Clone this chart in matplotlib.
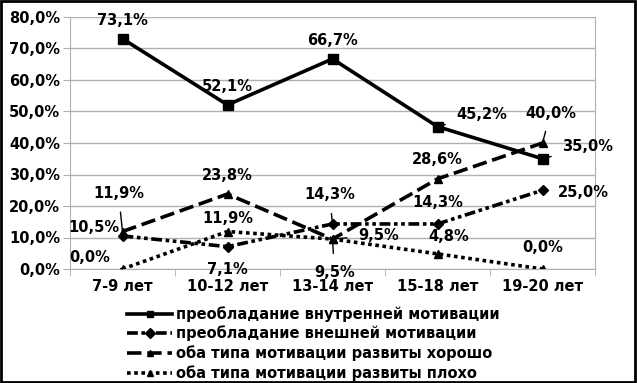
import matplotlib
matplotlib.use("Agg")
import matplotlib.pyplot as plt
from matplotlib.patches import Rectangle

plt.rcParams['font.family'] = ['DejaVu Sans']
plt.rcParams['font.weight'] = 'bold'

# ---------------- data ----------------
ages = ['7-9 лет', '10-12 лет', '13-14 лет', '15-18 лет', '19-20 лет']
intrinsic = [73.1, 52.1, 66.7, 45.2, 35.0]
extrinsic = [10.5, 7.1, 14.3, 14.3, 25.0]
both_good = [11.9, 23.8, 9.5, 28.6, 40.0]
both_poor = [0.0, 11.9, 9.5, 4.8, 0.0]
names = ['преобладание внутренней мотивации',
         'преобладание внешней мотивации',
         'оба типа мотивации развиты хорошо',
         'оба типа мотивации развиты плохо']

# label placement per point: (series, index, dx, dy, leader)  offsets in px
label_pos = [
    (0, 0, 0, 18, False), (0, 1, 0, 18, False), (0, 2, 0, 18, False),
    (0, 3, 44, 12, True), (0, 4, 45, 12, True),
    (1, 0, -29, 8, False), (1, 1, 0, -23, True), (1, 2, -3, 29, True),
    (1, 3, 0, 21, False), (1, 4, 41, -2, True),
    (2, 0, -4, 38, True), (2, 1, 0, 19, False), (2, 2, 46, 4, True),
    (2, 3, 0, 19, False), (2, 4, 8, 30, True),
    (3, 0, -33, 11, True), (3, 1, 0, 13, False), (3, 2, 2, -33, True),
    (3, 3, 11, 17, False), (3, 4, 0, 21, False),
]

series = [intrinsic, extrinsic, both_good, both_poor]
styles = [
    dict(ls='-', marker='s', ms=7),
    dict(ls=(0, (3, 1, 1, 1, 1, 1)), marker='D', ms=5),
    dict(ls=(0, (4, 1.6)), marker='^', ms=6),
    dict(ls=(0, (1, 1)), marker='^', ms=6),
]

FS = 10.5

fig = plt.figure(figsize=(6.37, 3.83), dpi=100)
ax = fig.add_axes([70/637, 1 - 269/383, 525/637, 252/383])

x = list(range(len(ages)))
lines = []
for vals, st, nm in zip(series, styles, names):
    ln, = ax.plot(x, vals, color='black', lw=2.6, ls=st['ls'],
                  marker=st['marker'], ms=st['ms'], mfc='black', mec='black',
                  label=nm)
    lines.append(ln)

ax.set_xlim(-0.5, 4.5)
ax.set_ylim(0, 80)
ax.set_yticks(range(0, 81, 10))
ax.set_yticklabels([f'{v:.1f}%'.replace('.', ',') for v in range(0, 81, 10)],
                   fontsize=FS, fontweight='bold')
ax.set_xticks(x)
ax.set_xticklabels(ages, fontsize=FS, fontweight='bold')
ax.set_xticks([i + 0.5 for i in range(-1, 5)], minor=True)
ax.tick_params(axis='x', which='major', length=0, pad=7)
ax.tick_params(axis='x', which='minor', length=5, color='#b0b0b0', direction='out')
ax.tick_params(axis='y', length=5, color='#b0b0b0', pad=2)
ax.grid(axis='y', color='#b0b0b0', lw=1)
for s in ax.spines.values():
    s.set_color('#b0b0b0')
ax.spines['top'].set_visible(False)
ax.set_axisbelow(True)

for si, i, dx, dy, leader in label_pos:
    v = series[si][i]
    txt = f'{v:.1f}%'.replace('.', ',')
    if leader:
        ax.annotate(txt, (i, v), xytext=(dx, dy), textcoords='offset pixels',
                    ha='center', va='center', fontsize=FS, fontweight='bold',
                    arrowprops=dict(arrowstyle='-', color='black', lw=1,
                                    shrinkA=6, shrinkB=0))
    else:
        ax.annotate(txt, (i, v), xytext=(dx, dy), textcoords='offset pixels',
                    ha='center', va='center', fontsize=FS, fontweight='bold')

leg = fig.legend(handles=lines, loc='upper left', bbox_to_anchor=(127/637, 1 - 306/383),
                 frameon=False, fontsize=10.5, handlelength=3.1, handletextpad=0.27,
                 labelspacing=0.27, borderpad=0, borderaxespad=0)
for t in leg.get_texts():
    t.set_fontweight('bold')
for h in leg.legend_handles:
    h.set_markersize(5)

fig.patches.append(Rectangle((0.002, 0.003), 0.995, 0.994, transform=fig.transFigure,
                             fill=False, ec='black', lw=2))

fig.savefig('out.png', dpi=100)
